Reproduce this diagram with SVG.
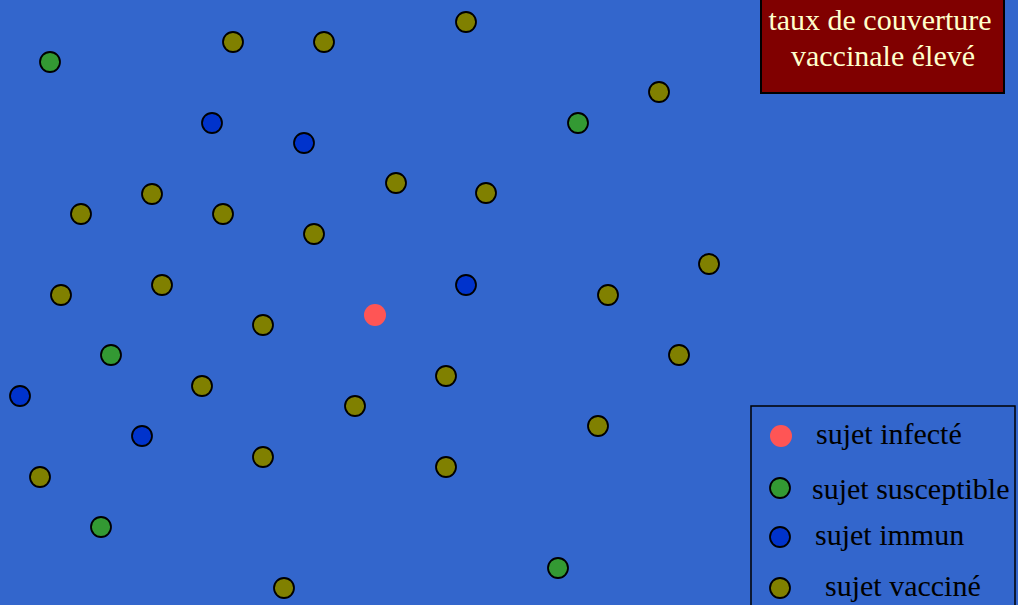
<svg xmlns="http://www.w3.org/2000/svg" width="1018" height="605" viewBox="0 0 1018 605">
<style>
.s{stroke:#000;stroke-width:1.8}
.v{fill:#808000}
.g{fill:#339933}
.b{fill:#0033CC}
.r{fill:#FF5555}
.t{font-family:"Liberation Serif",serif;font-size:30px}
</style>
<rect width="1018" height="605" fill="#3366CC"/>
<g id="title">
<rect x="761" y="-2" width="243" height="95" fill="#800000" stroke="#000" stroke-width="2"/>
<text class="t" x="880" y="30" text-anchor="middle" fill="#FFFFCC">taux de couverture</text>
<text class="t" x="883" y="66" text-anchor="middle" fill="#FFFFCC">vaccinale élevé</text>
</g>
<g id="subjects">
<circle class="s v" cx="466" cy="22" r="10"/>
<circle class="s v" cx="233" cy="42" r="10"/>
<circle class="s v" cx="324" cy="42" r="10"/>
<circle class="s v" cx="659" cy="92" r="10"/>
<circle class="s v" cx="396" cy="183" r="10"/>
<circle class="s v" cx="486" cy="193" r="10"/>
<circle class="s v" cx="152" cy="194" r="10"/>
<circle class="s v" cx="81" cy="214" r="10"/>
<circle class="s v" cx="223" cy="214" r="10"/>
<circle class="s v" cx="314" cy="234" r="10"/>
<circle class="s v" cx="709" cy="264" r="10"/>
<circle class="s v" cx="61" cy="295" r="10"/>
<circle class="s v" cx="162" cy="285" r="10"/>
<circle class="s v" cx="608" cy="295" r="10"/>
<circle class="s v" cx="263" cy="325" r="10"/>
<circle class="s v" cx="679" cy="355" r="10"/>
<circle class="s v" cx="202" cy="386" r="10"/>
<circle class="s v" cx="446" cy="376" r="10"/>
<circle class="s v" cx="355" cy="406" r="10"/>
<circle class="s v" cx="598" cy="426" r="10"/>
<circle class="s v" cx="263" cy="457" r="10"/>
<circle class="s v" cx="446" cy="467" r="10"/>
<circle class="s v" cx="40" cy="477" r="10"/>
<circle class="s v" cx="284" cy="588" r="10"/>
<circle class="s g" cx="50" cy="62" r="10"/>
<circle class="s g" cx="578" cy="123" r="10"/>
<circle class="s g" cx="111" cy="355" r="10"/>
<circle class="s g" cx="101" cy="527" r="10"/>
<circle class="s g" cx="558" cy="568" r="10"/>
<circle class="s b" cx="212" cy="123" r="10"/>
<circle class="s b" cx="304" cy="143" r="10"/>
<circle class="s b" cx="466" cy="285" r="10"/>
<circle class="s b" cx="20" cy="396" r="10"/>
<circle class="s b" cx="142" cy="436" r="10"/>
<circle class="r" cx="375" cy="315" r="11"/>
</g>
<g id="legend">
<rect x="751" y="406" width="264" height="205" fill="none" stroke="#000" stroke-width="1.5"/>
<circle class="r" cx="781" cy="436" r="11"/>
<text class="t" x="816" y="444" fill="#000">sujet infecté</text>
<circle class="s g" cx="780" cy="488" r="10"/>
<text class="t" x="812" y="499" fill="#000">sujet susceptible</text>
<circle class="s b" cx="780" cy="537" r="10"/>
<text class="t" x="815" y="545" fill="#000">sujet immun</text>
<circle class="s v" cx="780" cy="588" r="10"/>
<text class="t" x="825" y="596" fill="#000">sujet vacciné</text>
</g>
</svg>
